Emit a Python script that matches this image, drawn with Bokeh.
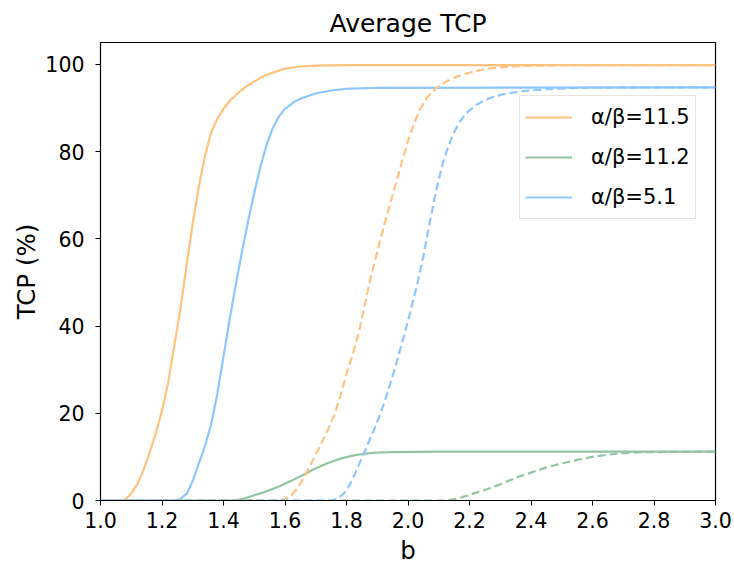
from bokeh.plotting import figure
from bokeh.models import Range1d, FixedTicker, Legend, LegendItem, NumeralTickFormatter
from bokeh.embed import file_html
from bokeh.resources import INLINE

# ---- data ----
os_b = [1.00, 1.06, 1.08, 1.10, 1.12, 1.14, 1.16, 1.18, 1.20, 1.22, 1.24, 1.26, 1.28, 1.30, 1.32, 1.34,
        1.36, 1.38, 1.40, 1.42, 1.45, 1.48, 1.52, 1.56, 1.60, 1.65, 1.70, 1.80, 3.00]
os_tcp = [0, 0, 0.2, 1.6, 3.8, 7.0, 11.0, 15.5, 20.5, 27.0, 35.5, 44.0, 54.0, 63.5, 72.0, 79.0,
          84.5, 87.5, 89.8, 91.6, 93.6, 95.2, 96.9, 98.1, 99.0, 99.5, 99.7, 99.8, 99.8]

bs_b = [1.00, 1.24, 1.26, 1.28, 1.30, 1.32, 1.34, 1.36, 1.38, 1.40, 1.42, 1.44, 1.46, 1.48, 1.50, 1.52,
        1.54, 1.56, 1.58, 1.60, 1.63, 1.66, 1.70, 1.75, 1.80, 1.90, 3.00]
bs_tcp = [0, 0, 0.4, 1.5, 4.5, 8.5, 12.5, 17.5, 24.5, 33.0, 41.5, 49.5, 57.0, 64.0, 70.5, 76.5,
          81.5, 85.3, 88.0, 89.8, 91.4, 92.4, 93.3, 94.0, 94.4, 94.6, 94.7]

gs_b = [1.00, 1.43, 1.46, 1.50, 1.54, 1.58, 1.62, 1.66, 1.70, 1.74, 1.78, 1.82, 1.86, 1.90, 1.95, 2.10, 3.00]
gs_tcp = [0, 0, 0.3, 1.2, 2.1, 3.2, 4.5, 5.9, 7.4, 8.6, 9.6, 10.3, 10.75, 11.0, 11.1, 11.2, 11.2]

od_b = [1.00, 1.58, 1.60, 1.62, 1.64, 1.66, 1.68, 1.70, 1.72, 1.74, 1.76, 1.78, 1.80, 1.82, 1.84, 1.86,
        1.88, 1.90, 1.92, 1.94, 1.96, 1.98, 2.00, 2.02, 2.04, 2.06, 2.08, 2.10, 2.13, 2.16, 2.19, 2.23,
        2.27, 2.33, 2.40, 2.50, 3.00]
od_tcp = [0, 0, 0.3, 1.2, 2.8, 5.0, 7.8, 10.5, 13.3, 16.3, 19.5, 24.0, 29.0, 33.5, 38.5, 45.0,
          51.5, 57.0, 62.5, 67.5, 72.5, 77.5, 82.5, 86.5, 89.8, 92.2, 93.8, 95.0, 96.3, 97.2, 97.9, 98.6,
          99.1, 99.5, 99.7, 99.8, 99.8]

bd_b = [1.00, 1.75, 1.77, 1.79, 1.81, 1.83, 1.85, 1.87, 1.89, 1.91, 1.93, 1.95, 1.97, 1.99, 2.01, 2.03,
        2.05, 2.07, 2.09, 2.11, 2.13, 2.15, 2.17, 2.19, 2.22, 2.25, 2.28, 2.32, 2.38, 2.45, 2.55, 2.70, 3.00]
bd_tcp = [0, 0, 0.4, 1.5, 3.5, 6.5, 9.8, 13.0, 16.3, 19.8, 24.0, 28.5, 33.5, 38.5, 44.0, 49.5,
          56.0, 63.5, 70.5, 76.5, 81.0, 84.5, 87.0, 88.8, 90.6, 91.8, 92.6, 93.3, 93.9, 94.3, 94.6, 94.7, 94.7]

gd_b = [1.00, 2.12, 2.16, 2.20, 2.25, 2.30, 2.35, 2.40, 2.45, 2.50, 2.55, 2.60, 2.65, 2.70, 2.75, 2.85, 3.00]
gd_tcp = [0, 0, 0.4, 1.3, 2.4, 3.7, 5.2, 6.4, 7.6, 8.5, 9.3, 10.0, 10.5, 10.85, 11.05, 11.15, 11.2]

title_text = "Average TCP"
labels = ["α/β=11.5", "α/β=11.2", "α/β=5.1"]
x_ticks = [1.0, 1.2, 1.4, 1.6, 1.8, 2.0, 2.2, 2.4, 2.6, 2.8, 3.0]
y_ticks = [0, 20, 40, 60, 80, 100]

ORANGE = "#FFC27F"
GREEN = "#93C4A4"
BLUE = "#8EC7FF"
FONT = "DejaVu Sans"

p = figure(width=734, height=568, frame_width=615, frame_height=458,
           output_backend="svg", toolbar_location=None,
           x_range=Range1d(1.0, 3.0), y_range=Range1d(0, 105),
           min_border_left=100, min_border_right=19, min_border_top=42, min_border_bottom=68,
           title=title_text)

p.title.align = "center"
p.title.text_font = FONT
p.title.text_font_size = "25px"
p.title.text_line_height = 1.0
p.title.text_font_style = "normal"
p.title.text_color = "black"
p.title.standoff = 10

p.xgrid.visible = False
p.ygrid.visible = False
p.outline_line_color = "black"
p.outline_line_width = 1.2
p.outline_line_alpha = 1

for ax in (p.xaxis[0], p.yaxis[0]):
    ax.major_label_text_font = FONT
    ax.major_label_text_font_size = "20.5px"
    ax.major_label_text_color = "black"
    ax.axis_label_text_font = FONT
    ax.axis_label_text_font_size = "24.5px"
    ax.axis_label_text_font_style = "normal"
    ax.axis_label_text_color = "black"
    ax.major_tick_out = 5
    ax.major_tick_in = 0
    ax.minor_tick_out = 0
    ax.minor_tick_in = 0
    ax.axis_line_color = "black"
    ax.major_tick_line_color = "black"

p.xaxis.ticker = FixedTicker(ticks=x_ticks)
p.xaxis.formatter = NumeralTickFormatter(format="0.0")
p.yaxis.ticker = FixedTicker(ticks=y_ticks)
p.xaxis.axis_label = "b"
p.yaxis.axis_label = "TCP (%)"
p.xaxis.major_label_standoff = 6
p.yaxis.major_label_standoff = 11
p.xaxis.axis_label_standoff = 5
p.yaxis.axis_label_standoff = 1

LW = 2.2
r_os = p.line(os_b, os_tcp, line_color=ORANGE, line_width=LW)
r_gs = p.line(gs_b, gs_tcp, line_color=GREEN, line_width=LW)
r_bs = p.line(bs_b, bs_tcp, line_color=BLUE, line_width=LW)
p.line(od_b, od_tcp, line_color=ORANGE, line_width=LW, line_dash="8 4")
p.line(gd_b, gd_tcp, line_color=GREEN, line_width=LW, line_dash="8 4")
p.line(bd_b, bd_tcp, line_color=BLUE, line_width=LW, line_dash="8 4")

legend = Legend(items=[LegendItem(label=labels[0], renderers=[r_os]),
                       LegendItem(label=labels[1], renderers=[r_gs]),
                       LegendItem(label=labels[2], renderers=[r_bs])],
                location=(419, 281))
legend.label_text_font = FONT
legend.label_text_font_size = "21px"
legend.label_text_color = "black"
legend.glyph_width = 47
legend.glyph_height = 32
legend.label_height = 32
legend.label_standoff = 19
legend.spacing = 8
legend.padding = 5
legend.margin = 0
legend.border_line_color = "#cccccc"
legend.border_line_width = 1
legend.background_fill_color = "white"
legend.background_fill_alpha = 0.8
p.add_layout(legend)

open("out.html", "w").write(file_html(p, INLINE))
